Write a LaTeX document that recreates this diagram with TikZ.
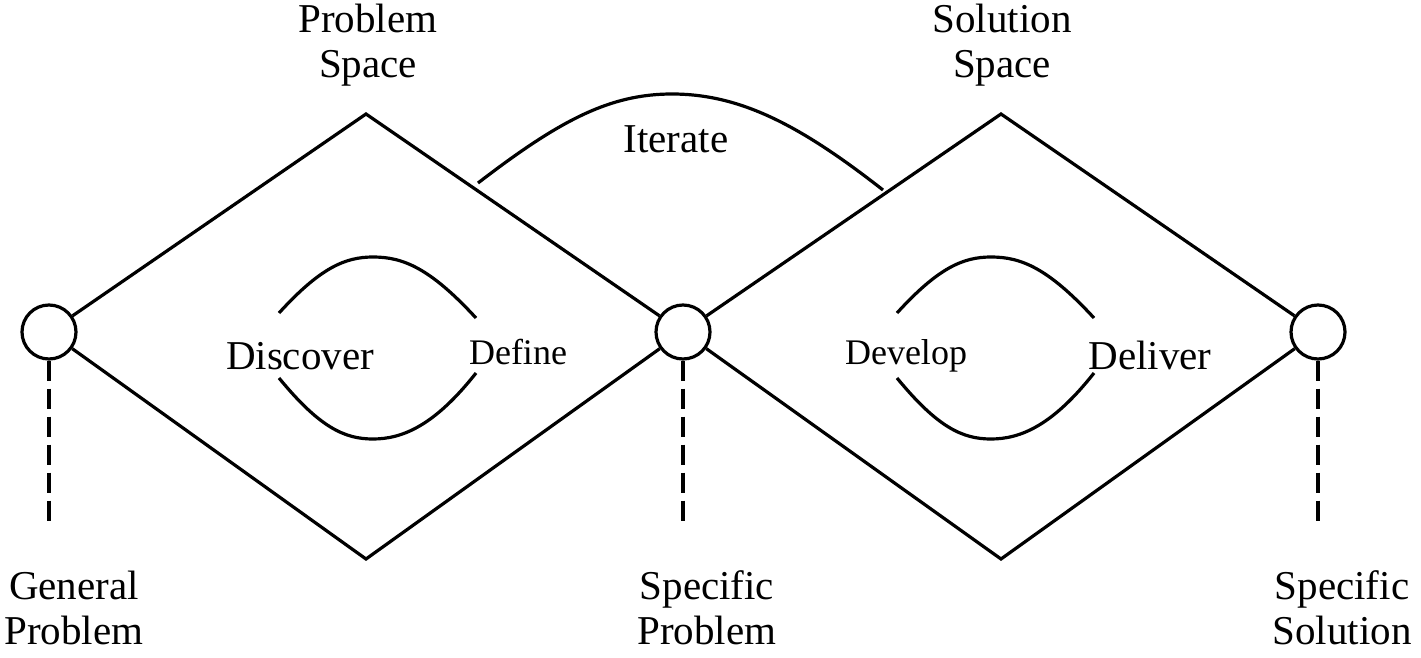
\documentclass[tikz,border=0pt]{standalone}
\usepackage{fontspec}
\setmainfont{Liberation Serif}
\begin{document}
\begin{tikzpicture}[x=1pt,y=-1pt,
  ln/.style={line width=3.2pt, line join=miter},
  hub/.style={circle, draw, line width=3.2pt, minimum size=54pt, inner sep=0pt},
  dsh/.style={line width=3.2pt, dash pattern=on 20pt off 8pt},
  big/.style={font=\fontsize{41}{45}\selectfont, inner sep=0pt, anchor=base, align=center},
  small/.style={font=\fontsize{36}{40}\selectfont, inner sep=0pt, anchor=base}]
\useasboundingbox (0,0) rectangle (1421,658);
% hubs
\node[hub] (c1) at (49,332) {};
\node[hub] (c2) at (683,332) {};
\node[hub] (c3) at (1318,332) {};
% diamond vertices
\coordinate (t1) at (366,114);
\coordinate (b1) at (366,559);
\coordinate (t2) at (1001,114);
\coordinate (b2) at (1001,559);
\draw[ln] (c1) -- (t1) -- (c2) -- (b1) -- (c1);
\draw[ln] (c2) -- (t2) -- (c3) -- (b2) -- (c2);
% dashed drops
\coordinate (d1) at (49,523);
\coordinate (d2) at (683,523);
\coordinate (d3) at (1318,523);
\draw[dsh] (c1.south) -- (d1);
\draw[dsh] (c2.south) -- (d2);
\draw[dsh] (c3.south) -- (d3);
% iterate arc
\coordinate (i1) at (478,183);
\coordinate (i2) at (672,94);
\coordinate (i3) at (883,190);
\draw[ln] (i1) .. controls (560,120) and (610,94) .. (i2) .. controls (740,94) and (800,125) .. (i3);
% inner curves
\foreach \s in {0,618}{
  \begin{scope}[xshift=\s]
  \draw[ln] (279,313) .. controls (320,268) and (345,257) .. (373,257) .. controls (403,257) and (430,268) .. (476,318);
  \draw[ln] (279,378) .. controls (320,428) and (345,439) .. (373,439) .. controls (403,439) and (435,425) .. (476,373);
  \end{scope}
}
% labels
\node[big] (ps) at (368,78) {Problem\\Space};
\node[big] (ss) at (1002,78) {Solution\\Space};
\node[big] (it) at (676,153) {Iterate};
\node[big] (dc) at (300,369) {Discover};
\node[small] (df) at (518,364) {Define};
\node[small] (dv) at (906,364) {Develop};
\node[big] (dl) at (1150,369) {Deliver};
\node[big] (gp) at (74,644) {General\\Problem};
\node[big] (sp) at (707,644) {Specific\\Problem};
\node[big] (so) at (1342,644) {Specific\\Solution};
\end{tikzpicture}
\end{document}
